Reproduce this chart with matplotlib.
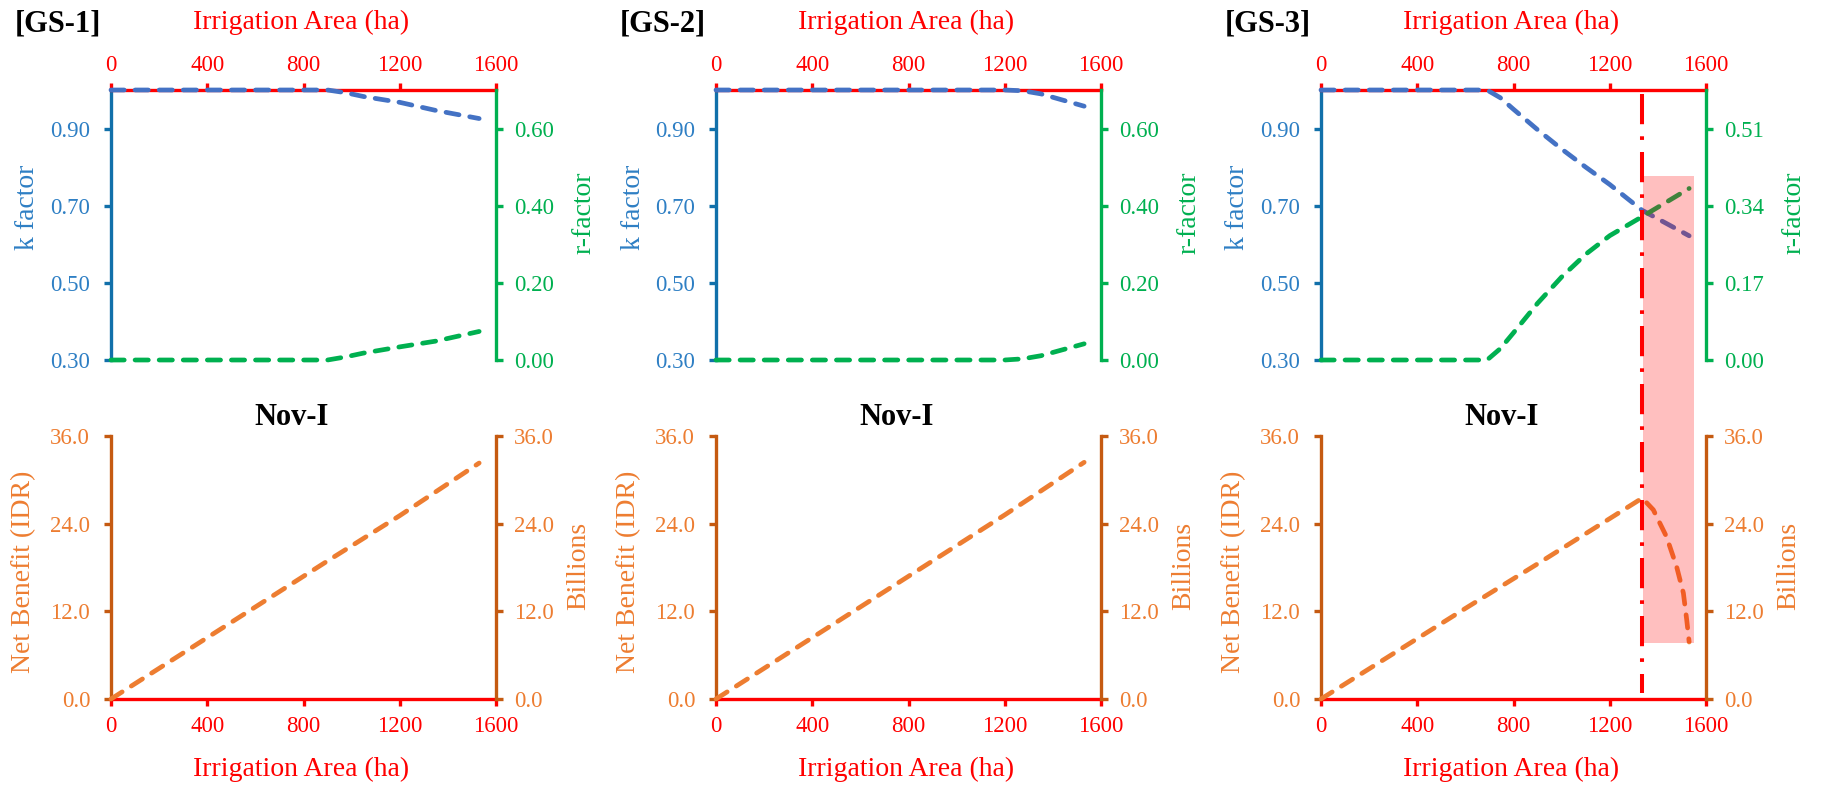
import matplotlib
matplotlib.use("Agg")
import matplotlib.pyplot as plt
from matplotlib.patches import Rectangle
from matplotlib.lines import Line2D
from matplotlib.ticker import FormatStrFormatter

plt.rcParams["font.family"] = ["Liberation Serif", "DejaVu Serif"]

# ----------------------------------------------------------------------------
# Data
# ----------------------------------------------------------------------------

AREA_TICKS = [0, 400, 800, 1200, 1600]
K_TICKS = [0.30, 0.50, 0.70, 0.90]
NB_TICKS = [0.0, 12.0, 24.0, 36.0]
R_TICKS_12 = [0.00, 0.20, 0.40, 0.60]
R_TICKS_3 = [0.00, 0.17, 0.34, 0.51]

# GS-1
gs1_area = [0, 150, 300, 450, 600, 750, 900, 975, 1050, 1200, 1350, 1530]
gs1_k = [1.0, 1.0, 1.0, 1.0, 1.0, 1.0, 1.0, 0.993, 0.983, 0.968, 0.947, 0.926]
gs1_r = [0.0, 0.0, 0.0, 0.0, 0.0, 0.0, 0.0, 0.008, 0.018, 0.034, 0.049, 0.074]
gs1_nb_area = [0, 300, 600, 900, 1200, 1530]
gs1_nb = [0.0, 6.3, 12.6, 18.9, 25.1, 32.3]

# GS-2
gs2_area = [0, 150, 300, 450, 600, 750, 900, 1050, 1200, 1275, 1350, 1530]
gs2_k = [1.0, 1.0, 1.0, 1.0, 1.0, 1.0, 1.0, 1.0, 1.0, 0.998, 0.990, 0.958]
gs2_r = [0.0, 0.0, 0.0, 0.0, 0.0, 0.0, 0.0, 0.0, 0.0, 0.003, 0.011, 0.042]
gs2_nb_area = [0, 300, 600, 900, 1200, 1530]
gs2_nb = [0.0, 6.3, 12.6, 18.9, 25.2, 32.4]

# GS-3
gs3_area = [0, 150, 300, 450, 600, 690, 745, 800, 900, 1000, 1100, 1200, 1335, 1530]
gs3_k = [1.0, 1.0, 1.0, 1.0, 1.0, 1.0, 0.980, 0.950, 0.897, 0.847, 0.800, 0.755, 0.688, 0.622]
gs3_r = [0.0, 0.0, 0.0, 0.0, 0.0, 0.0, 0.025, 0.060, 0.125, 0.183, 0.233, 0.274, 0.316, 0.378]
gs3_nb_area = [0, 300, 600, 900, 1200, 1335, 1381, 1436, 1478, 1506, 1520, 1530]
gs3_nb = [0.0, 6.2, 12.4, 18.5, 24.7, 27.5, 25.9, 22.2, 18.1, 14.5, 10.8, 7.8]

# GS-3 limit marker and highlighted infeasible zone
gs3_limit_area = 1335
gs3_band_area = (1340, 1551)
gs3_band_k_top = 0.777      # top edge, in k-factor units (upper axes)
gs3_band_nb_bottom = 7.7    # bottom edge, in billions (lower axes)

# ----------------------------------------------------------------------------
# Style
# ----------------------------------------------------------------------------

RED = "#FF0000"
BLUE_SPINE = "#1170AA"
BLUE_TXT = "#2E7FC4"
K_LINE = "#4472C4"
GREEN = "#00B050"
BROWN = "#C55A11"
ORANGE = "#ED7D31"

W, H = 1821, 787
PANEL_LEFT = [111, 716, 1321]
PANEL_W = 385
TOP_Y = (90, 360)
BOT_Y = (436, 699)

LW = 3.4
DASH = (2.8, 2.3)
SPINE_W = 2.4
TICK_FS = 16.5
LABEL_FS = 20


def fx(px):
    return px / W


def fy(py):
    return 1 - py / H


def dashed(ax, x, y, color):
    ax.plot(x, y, color=color, lw=LW, dashes=DASH, dash_capstyle="round",
            solid_capstyle="round", clip_on=False, zorder=4)


def style_spine(ax, side, color):
    ax.spines[side].set_color(color)
    ax.spines[side].set_linewidth(SPINE_W)


def draw_panel(fig, col, name, area, k, r, nb_area, nb, r_ticks, r_max):
    left = PANEL_LEFT[col]

    # --- upper panel: k factor (left) and r-factor (right) ---
    ax = fig.add_axes([fx(left), fy(TOP_Y[1]), fx(PANEL_W), (TOP_Y[1] - TOP_Y[0]) / H])
    axr = ax.twinx()
    ax.set_xlim(0, 1600)
    ax.set_ylim(0.30, 1.00)
    axr.set_ylim(0, r_max)

    for s in ["bottom", "right"]:
        ax.spines[s].set_visible(False)
    for s in ["bottom", "left", "top"]:
        axr.spines[s].set_visible(False)
    style_spine(ax, "top", RED)
    style_spine(ax, "left", BLUE_SPINE)
    style_spine(axr, "right", GREEN)

    ax.xaxis.tick_top()
    ax.set_xticks(AREA_TICKS)
    ax.tick_params(axis="x", colors=RED, labelsize=TICK_FS, width=SPINE_W, length=5, pad=5)
    ax.set_yticks(K_TICKS)
    ax.yaxis.set_major_formatter(FormatStrFormatter("%.2f"))
    ax.tick_params(axis="y", color=BLUE_SPINE, labelcolor=BLUE_TXT, labelsize=TICK_FS,
                   width=SPINE_W, length=5, pad=10)
    axr.set_yticks(r_ticks)
    axr.yaxis.set_major_formatter(FormatStrFormatter("%.2f"))
    axr.tick_params(axis="y", colors=GREEN, labelsize=TICK_FS, width=SPINE_W, length=5, pad=8)

    dashed(ax, area, k, K_LINE)
    dashed(axr, area, r, GREEN)

    # --- lower panel: net benefit ---
    bx = fig.add_axes([fx(left), fy(BOT_Y[1]), fx(PANEL_W), (BOT_Y[1] - BOT_Y[0]) / H])
    bxr = bx.twinx()
    bx.set_xlim(0, 1600)
    bx.set_ylim(0, 36)
    bxr.set_ylim(0, 36)
    for s in ["top", "right"]:
        bx.spines[s].set_visible(False)
    for s in ["top", "left", "bottom"]:
        bxr.spines[s].set_visible(False)
    style_spine(bx, "bottom", RED)
    style_spine(bx, "left", BROWN)
    style_spine(bxr, "right", BROWN)

    bx.set_xticks(AREA_TICKS)
    bx.tick_params(axis="x", colors=RED, labelsize=TICK_FS, width=SPINE_W, length=5, pad=7)
    for a, pad in ((bx, 10), (bxr, 8)):
        a.set_yticks(NB_TICKS)
        a.yaxis.set_major_formatter(FormatStrFormatter("%.1f"))
        a.tick_params(axis="y", color=BROWN, labelcolor=ORANGE, labelsize=TICK_FS,
                      width=SPINE_W, length=5, pad=pad)

    dashed(bxr, nb_area, nb, ORANGE)

    # --- texts ---
    cx = left + PANEL_W / 2 - 2
    fig.text(fx(cx), fy(22), "Irrigation Area (ha)", color=RED, fontsize=LABEL_FS,
             ha="center", va="center")
    fig.text(fx(cx), fy(769), "Irrigation Area (ha)", color=RED, fontsize=LABEL_FS,
             ha="center", va="center")
    fig.text(fx(left - 96), fy(24), name, fontsize=22, fontweight="bold",
             ha="left", va="center")
    fig.text(fx(left + 181), fy(418), "Nov-I", fontsize=22, fontweight="bold",
             ha="center", va="center")
    fig.text(fx(left - 83), fy(207), "k factor", color=BLUE_TXT, fontsize=LABEL_FS,
             rotation=90, ha="center", va="center")
    fig.text(fx(left + 473), fy(213), "r-factor", color=GREEN, fontsize=LABEL_FS,
             rotation=90, ha="center", va="center")
    fig.text(fx(left - 87), fy(572), "Net Benefit (IDR)", color=ORANGE, fontsize=LABEL_FS,
             rotation=90, ha="center", va="center")
    fig.text(fx(left + 468), fy(566), "Billions", color=ORANGE, fontsize=LABEL_FS,
             rotation=90, ha="center", va="center")
    return ax, bx


def to_fig(fig, ax, x, y):
    disp = ax.transData.transform((x, y))
    return fig.transFigure.inverted().transform(disp)


def main():
    fig = plt.figure(figsize=(W / 100, H / 100), dpi=100)

    draw_panel(fig, 0, "[GS-1]", gs1_area, gs1_k, gs1_r, gs1_nb_area, gs1_nb, R_TICKS_12, 0.70)
    draw_panel(fig, 1, "[GS-2]", gs2_area, gs2_k, gs2_r, gs2_nb_area, gs2_nb, R_TICKS_12, 0.70)
    ax3, bx3 = draw_panel(fig, 2, "[GS-3]", gs3_area, gs3_k, gs3_r, gs3_nb_area, gs3_nb,
                          R_TICKS_3, 0.595)

    # limit line across both GS-3 panels
    x0, y0 = to_fig(fig, ax3, gs3_limit_area, 0.99)
    _, y1 = to_fig(fig, bx3, gs3_limit_area, 0.8)
    fig.add_artist(Line2D([x0, x0], [y0, y1], transform=fig.transFigure, color=RED,
                          lw=2.9, dashes=(7.5, 3, 0.9, 3), dash_capstyle="butt", zorder=5))

    # shaded zone beyond the limit (drawn on top, semi-transparent)
    bx0, by_top = to_fig(fig, ax3, gs3_band_area[0], gs3_band_k_top)
    bx1, _ = to_fig(fig, ax3, gs3_band_area[1], gs3_band_k_top)
    _, by_bot = to_fig(fig, bx3, gs3_band_area[0], gs3_band_nb_bottom)
    fig.add_artist(Rectangle((bx0, by_bot), bx1 - bx0, by_top - by_bot,
                             transform=fig.transFigure, facecolor=RED, alpha=0.25,
                             edgecolor="none", zorder=6))

    fig.savefig("out.png", dpi=100)


if __name__ == "__main__":
    main()
